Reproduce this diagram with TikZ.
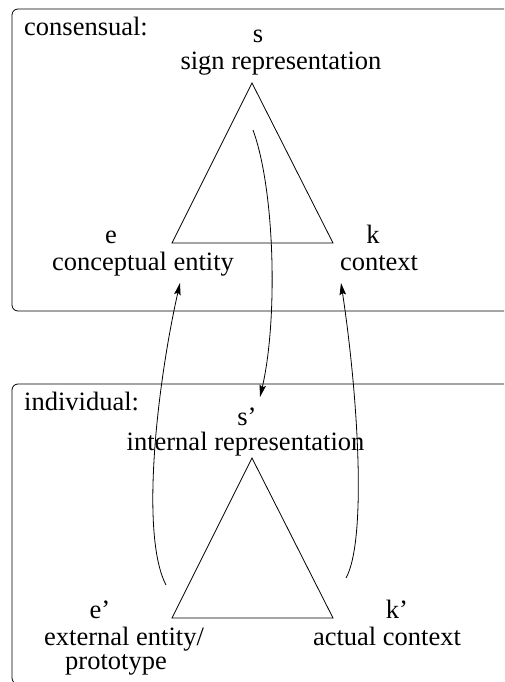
\documentclass[tikz,border=0pt]{standalone}
\usepackage{fontspec}
\setmainfont{Liberation Serif}
\usetikzlibrary{arrows.meta}
\tikzset{
  lbl/.style={anchor=base, inner sep=0pt, font=\fontsize{26.5}{27}\selectfont},
  ttl/.style={anchor=base west, inner sep=0pt, font=\fontsize{26.5}{27}\selectfont},
  frame/.style={draw, line width=0.8pt, rounded corners=6pt},
  tri/.style={draw, line width=0.8pt},
  link/.style={draw, line width=0.8pt, -{Stealth[length=12pt,width=6.5pt,inset=2pt]}}
}
\begin{document}
\begin{tikzpicture}[x=1pt,y=-1pt]
\useasboundingbox (0,0) rectangle (504,682);
\clip (0,0) rectangle (504,682);
% frames
\draw[frame] (12,9) rectangle (530,311);
\draw[frame] (12,384) rectangle (530,684);
% titles
\node[ttl] (tcons) at (24,36) {consensual:};
\node[ttl] (tind) at (24,410) {individual:};
% top triangle
\coordinate (sA) at (252,83);
\coordinate (eA) at (172,243);
\coordinate (kA) at (333,243);
\draw[tri] (sA) -- (eA) -- (kA) -- cycle;
% bottom triangle
\coordinate (sB) at (252,458);
\coordinate (eB) at (172,618);
\coordinate (kB) at (333,618);
\draw[tri] (sB) -- (eB) -- (kB) -- cycle;
% top labels
\node[lbl] (s) at (258,43) {s};
\node[lbl] (sl) at (281,70) {sign representation};
\node[lbl] (e) at (111,243) {e};
\node[lbl] (el) at (143,270) {conceptual entity};
\node[lbl] (k) at (373,243) {k};
\node[lbl] (kl) at (379,270) {context};
% bottom labels
\node[lbl] (s2) at (247,425) {s'};
\node[lbl] (s2l) at (245.5,450) {internal representation};
\node[lbl] (e2) at (100,618) {e'};
\node[lbl] (e2l) at (124,645) {external entity/};
\node[lbl] (e2m) at (116,669) {prototype};
\node[lbl] (k2) at (397,618) {k'};
\node[lbl] (k2l) at (387,645) {actual context};
% connectors
\coordinate (a1s) at (253,130);
\coordinate (a1e) at (260,397);
\coordinate (a2s) at (166,585);
\coordinate (a2e) at (180,283);
\coordinate (a3s) at (346,578);
\coordinate (a3e) at (341,283);
\draw[link] (a1s) .. controls (275,190) and (278,320) .. (a1e);
\draw[link] (a2s) .. controls (140,535) and (157,385) .. (a2e);
\draw[link] (a3s) .. controls (367,540) and (358,395) .. (a3e);
\end{tikzpicture}
\end{document}
